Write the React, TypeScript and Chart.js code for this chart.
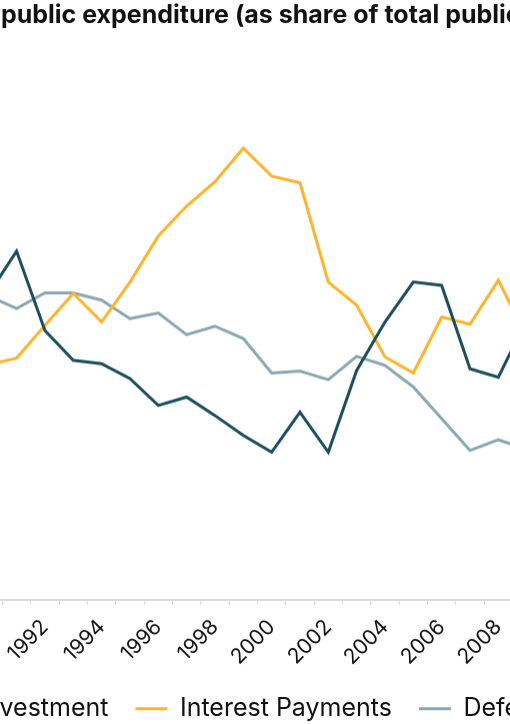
import { useEffect, useRef } from "react";
import { Chart, registerables } from "chart.js";

Chart.register(...registerables);

const TITLE =
  "Major components of public expenditure (as share of total public expenditure)";

// full year span of the x axis (the chart is wider than the window)
const axisYears = [
  "1983", "1984", "1985", "1986", "1987", "1988", "1989", "1990", "1991", "1992",
  "1993", "1994", "1995", "1996", "1997", "1998", "1999", "2000", "2001", "2002",
  "2003", "2004", "2005", "2006", "2007", "2008", "2009", "2010", "2011", "2012",
  "2013", "2014",
];

const years = [
  "1990", "1991", "1992", "1993", "1994", "1995", "1996", "1997", "1998", "1999",
  "2000", "2001", "2002", "2003", "2004", "2005", "2006", "2007", "2008", "2009",
];

// % of total public expenditure
const publicInvestment = [
  10.9, 12.45, 9.62, 8.55, 8.43, 7.9, 6.94, 7.24, 6.58, 5.87,
  5.27, 6.7, 5.27, 8.19, 9.92, 11.35, 11.23, 8.25, 7.95, 10.0,
];
const interestPayments = [
  8.39, 8.63, 9.8, 10.94, 9.92, 11.35, 12.99, 14.06, 14.93, 16.13,
  15.13, 14.89, 11.35, 10.52, 8.67, 8.1, 10.1, 9.84, 11.41, 9.39,
];
const defence = [
  10.86, 10.4, 10.96, 10.96, 10.7, 10.04, 10.24, 9.47, 9.77, 9.33,
  8.1, 8.17, 7.86, 8.69, 8.37, 7.6, 6.47, 5.33, 5.71, 5.38,
];

const seriesNames = ["Public Investment", "Interest Payments", "Defence"];
const seriesColors = ["#1b4d5b", "#fdb42c", "#8aa8b0"];

// the window only shows a crop of the full chart
const CANVAS_W = 975.2;
const CANVAS_H = 731.3;
const OFFSET_X = -278.8;
const OFFSET_Y = -0.8;

export default function App() {
  const canvasRef = useRef<HTMLCanvasElement | null>(null);

  useEffect(() => {
    if (!canvasRef.current) return;
    const chart = new Chart(canvasRef.current, {
      type: "line",
      data: {
        labels: axisYears,
        datasets: [publicInvestment, interestPayments, defence].map((d, i) => ({
          label: seriesNames[i],
          data: d.map((v, j) => ({ x: years[j], y: v })),
          borderColor: seriesColors[i],
          backgroundColor: seriesColors[i],
          borderWidth: 3,
          pointRadius: 0,
          tension: 0,
        })),
      },
      options: {
        animation: false,
        responsive: true,
        maintainAspectRatio: false,
        layout: { padding: 0 },
        plugins: {
          title: {
            display: true,
            text: TITLE,
            color: "#111",
            font: { family: "Inter", size: 25, weight: "bold" },
            padding: { top: 1, bottom: 9.8 },
          },
          legend: {
            position: "bottom",
            labels: {
              usePointStyle: true,
              pointStyle: "line",
              pointStyleWidth: 32,
              padding: 27,
              color: "#111",
              font: { family: "Inter", size: 25 },
            },
          },
          tooltip: { enabled: false },
        },
        scales: {
          x: {
            offset: true,
            grid: {
              offset: true,
              drawOnChartArea: false,
              color: "#d9d9d9",
              tickLength: 5,
            },
            border: { color: "#d9d9d9", width: 2 },
            ticks: {
              autoSkip: false,
              minRotation: 45,
              maxRotation: 45,
              padding: 10,
              color: "#111",
              font: { family: "Inter", size: 21 },
              callback: (_v, i) =>
                Number(axisYears[i]) % 2 === 0 ? axisYears[i] : "",
            },
            afterFit: (scale) => {
              scale.height = 69.5;
            },
          },
          y: {
            min: 0,
            max: 20,
            grid: { display: false },
            border: { display: false },
            ticks: { display: false },
            afterFit: (scale) => {
              scale.width = 54.7;
            },
          },
        },
      },
    });
    return () => chart.destroy();
  }, []);

  return (
    <div
      style={{
        position: "fixed",
        left: 0,
        top: 0,
        width: 510,
        height: 724,
        overflow: "hidden",
        background: "#fff",
      }}
    >
      <div
        style={{
          position: "absolute",
          left: OFFSET_X,
          top: OFFSET_Y,
          width: CANVAS_W,
          height: CANVAS_H,
        }}
      >
        <canvas ref={canvasRef} />
      </div>
    </div>
  );
}
